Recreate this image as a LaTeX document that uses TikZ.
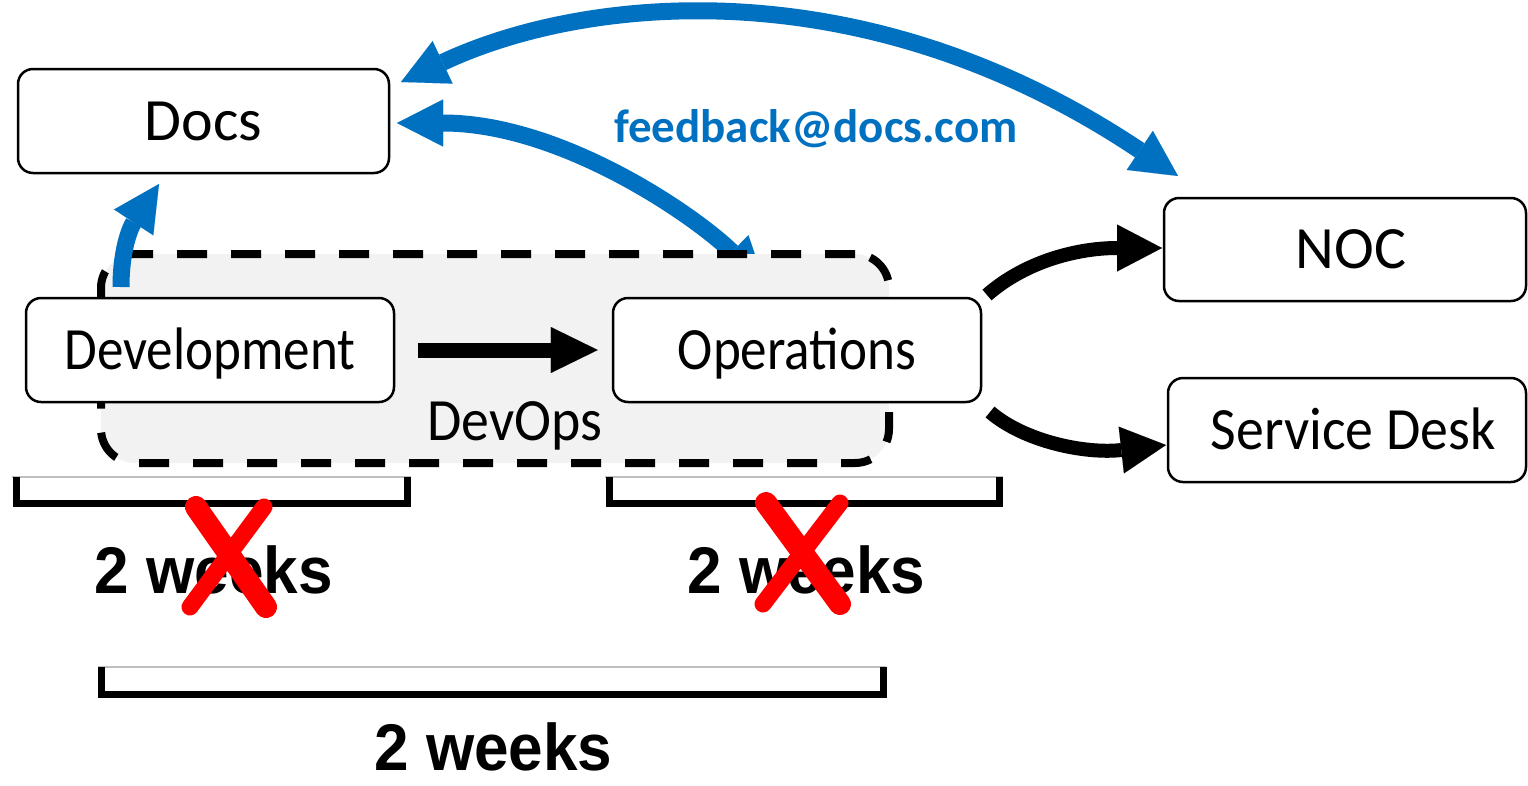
\documentclass[tikz,border=0pt]{standalone}
\usepackage{fontspec}
\usepackage{graphicx}
\setmainfont{Carlito}
\newfontfamily\wkfont{Liberation Sans}
\usetikzlibrary{arrows.meta,backgrounds}
\definecolor{msblue}{HTML}{0070C0}
\definecolor{boxgray}{HTML}{F2F2F2}
\definecolor{thingray}{HTML}{BFBFBF}
\newcommand\sqz[1]{\scalebox{0.93}[1]{#1}}
\newcommand\sqzz[1]{\scalebox{0.885}[1]{#1}}
\newcommand\sqzw[1]{\scalebox{0.94}[1]{#1}}
\tikzset{
  box/.style={draw=black, line width=2.5pt, rounded corners=15pt, fill=white,
    inner sep=0pt, font=\fontsize{60}{64}\selectfont, text height=38pt, text depth=0pt},
  dashbox/.style={draw=black, line width=8pt, dash pattern=on 30pt off 24pt,
    fill=boxgray, rounded corners=34pt, inner sep=0pt,
    minimum width=788pt, minimum height=209pt},
  bluehead/.tip={Triangle[length=46pt,width=47pt,line width=0.01pt]},
  blackhead/.tip={Triangle[length=45pt,width=47pt,line width=0.01pt]},
  bluearr/.style={msblue, line width=17pt, -bluehead},
  bluetwo/.style={msblue, line width=17pt, bluehead-bluehead},
  blackarr/.style={black, line width=14pt, -blackhead},
  bigarr/.style={black, line width=15pt, -{Triangle[length=47pt,width=46pt,line width=0.01pt]}},
  bracket/.style={black, line width=7pt, miter limit=10},
  grayline/.style={thingray, line width=1.5pt},
  weeks/.style={inner sep=0pt, font=\wkfont\bfseries\fontsize{66}{70}\selectfont,
    text height=47pt, text depth=0pt},
  redx/.style={red, line cap=round},
  plain/.style={inner sep=0pt, font=\fontsize{60}{64}\selectfont}
}
\begin{document}
\begin{tikzpicture}[x=1pt,y=-1pt]
\useasboundingbox (0,0) rectangle (1528,785);

% boxes
\node[box, minimum width=371pt, minimum height=104pt] (docs) at (203.5,121) {Docs};
\node[box, minimum width=368pt, minimum height=104pt] (dev) at (210,350) {\sqzz{Development}};
\node[box, minimum width=368pt, minimum height=104pt] (ops) at (797,350) {\sqzz{Operations}};
\node[box, minimum width=362pt, minimum height=103pt] (noc) at (1345,249.5) {\hspace*{12pt}NOC};
\node[box, minimum width=358pt, minimum height=104pt] (sd) at (1347,430) {\hspace*{12pt}\sqz{Service Desk}};

% connector end points
\coordinate (fbB) at (765,284);
\coordinate (fbT) at (397,123);
\coordinate (ddS) at (121,287);
\coordinate (ddT) at (159,184);
\coordinate (topL) at (401,82);
\coordinate (topR) at (1178,176);
\coordinate (onS) at (987,295);
\coordinate (onT) at (1162,248);
\coordinate (sdS) at (990,412);
\coordinate (sdT) at (1166,445);

\begin{scope}[on background layer]
  \draw[bluetwo] (fbB) .. controls (693,214) and (560,123) .. (fbT);
  \node[dashbox] (devops) at (495,358.5) {};
\end{scope}

\node[plain, anchor=base] (devopslabel) at (515,440) {\sqz{DevOps}};

% arrows
\draw[bigarr] ([xshift=23pt]dev.east) -- ([xshift=-14pt]ops.west);
\draw[bluearr] (ddS) .. controls (121,250) and (130,228) .. (ddT);
\draw[bluetwo] (topL) .. controls (582,-3.4) and (862,-35.7) .. (topR);
\draw[blackarr] (onS) .. controls (1027,260) and (1080,248) .. (onT);
\draw[blackarr] (sdS) .. controls (1025,442) and (1086,454) .. (sdT);

\node[anchor=base, inner sep=0pt, text=msblue, font=\bfseries\fontsize{47}{50}\selectfont] (fb) at (816,142) {feedback@docs.com};

% brackets
\draw[grayline] (12,477) -- (411,477);
\draw[grayline] (605,477) -- (1003,477);
\draw[grayline] (98,667) -- (886,667);
\draw[bracket] (16,477) -- (16,503.5) -- (407,503.5) -- (407,477);
\draw[bracket] (609,477) -- (609,503.5) -- (999,503.5) -- (999,477);
\draw[bracket] (101,667) -- (101,694.5) -- (883,694.5) -- (883,667);

% durations
\node[weeks] (w1) at (214,570) {\sqzw{2 weeks}};
\node[weeks] (w2) at (806.5,570) {\sqzw{2 weeks}};
\node[weeks] (w3) at (493.5,747) {\sqzw{2 weeks}};

% red crosses
\draw[redx, line width=22pt] (196,507) -- (266,607);
\draw[redx, line width=17pt] (264,507) -- (190,607);
\draw[redx, line width=22pt] (766,503) -- (840,604);
\draw[redx, line width=17pt] (840,503) -- (763,604);
\end{tikzpicture}
\end{document}
